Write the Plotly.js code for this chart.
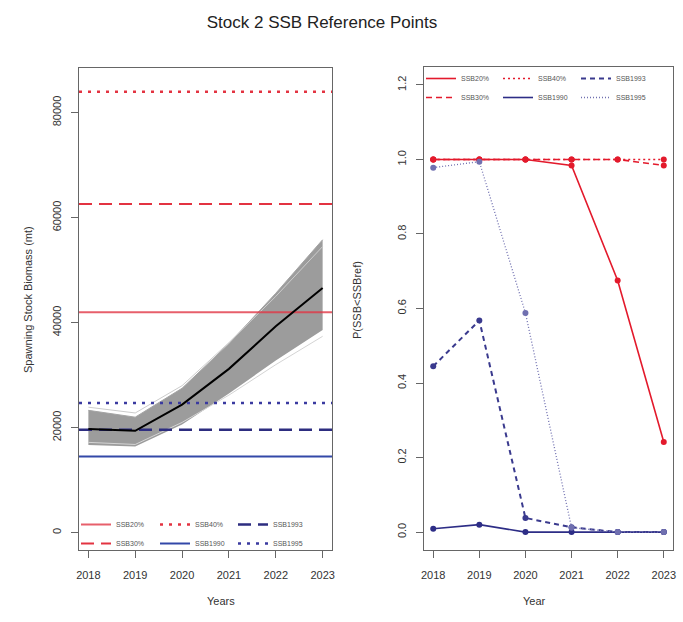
<!DOCTYPE html>
<html>
<head>
<meta charset="utf-8">
<script src="https://cdn.plot.ly/plotly-3.0.1.min.js"></script>
<style>html,body{margin:0;padding:0;background:#fff;}#chart{width:683px;height:622px;}</style>
</head>
<body>
<div id="chart"></div>
<script>
// ---------- data ----------
const years = [2018, 2019, 2020, 2021, 2022, 2023];

// left panel: projected SSB (mt)
const ssbMedian = [19750, 19400, 24400, 31200, 39300, 46600];
const ssbUpper  = [23300, 22000, 27500, 36000, 45600, 55800];
const ssbLower  = [16700, 16400, 20600, 26500, 32800, 38600];
const ssbLightHi = [23900, 22800, 28000, 36200, 45000, 54500];
const ssbLightLo = [17200, 16800, 21000, 26200, 32000, 37400];

// reference point levels (mt)
const refNames  = ["SSB20%", "SSB30%", "SSB40%", "SSB1990", "SSB1993", "SSB1995"];
const refLevels = [42000, 62600, 84000, 14500, 19600, 24700];

// right panel: P(SSB < SSBref)
const pSSB20  = [1.0, 1.0, 1.0, 0.984, 0.675, 0.242];
const pSSB30  = [1.0, 1.0, 1.0, 1.0, 1.0, 0.984];
const pSSB40  = [1.0, 1.0, 1.0, 1.0, 1.0, 1.0];
const pSSB1990 = [0.009, 0.02, 0.0, 0.0, 0.0, 0.0];
const pSSB1993 = [0.445, 0.568, 0.038, 0.013, 0.0, 0.0];
const pSSB1995 = [0.978, 0.994, 0.588, 0.012, 0.0, 0.0];

const yTicksL = [0, 20000, 40000, 60000, 80000];
const yTicksR = [0, 0.2, 0.4, 0.6, 0.8, 1.0, 1.2];
const yTickTextR = ["0.0", "0.2", "0.4", "0.6", "0.8", "1.0", "1.2"];

// ---------- styling ----------
const xRange = [2017.8, 2023.2];
const FONT = "Liberation Sans, Arial, sans-serif";
const refStylesL = [
  {color: "rgba(225,55,70,0.8)", dash: "solid", width: 2},
  {color: "rgba(225,40,55,0.95)", dash: "13px,7px", width: 2},
  {color: "rgba(225,40,55,0.95)", dash: "3px,6px", width: 2.5},
  {color: "#3348a8", dash: "solid", width: 2},
  {color: "#2d2d80", dash: "13px,7px", width: 2.5},
  {color: "#3a3aa0", dash: "3px,6px", width: 2.5}
];
const refStylesR = [
  {color: "#e31a2c", dash: "solid", width: 1.6},
  {color: "#e31a2c", dash: "6px,4px", width: 1.6},
  {color: "#e31a2c", dash: "2px,3px", width: 1.6},
  {color: "#2d2d86", dash: "solid", width: 1.6},
  {color: "#3a3a8e", dash: "5px,4px", width: 2},
  {color: "#7070b0", dash: "1px,2px", width: 1.3}
];
const pSeries = [pSSB20, pSSB30, pSSB40, pSSB1990, pSSB1993, pSSB1995];
// legend columns (R legend with ncol=3): col1: 20%,30%; col2: 40%,1990; col3: 1993,1995
const legendColL = ["legend", "legend", "legend2", "legend2", "legend3", "legend3"];
const legendColR = ["legend4", "legend4", "legend5", "legend5", "legend6", "legend6"];

const traces = [];
// gray envelope
traces.push({x: years, y: ssbLower, mode: "lines", line: {color: "rgba(0,0,0,0)", width: 0},
  xaxis: "x", yaxis: "y", showlegend: false, hoverinfo: "skip"});
traces.push({x: years, y: ssbUpper, mode: "lines", fill: "tonexty", fillcolor: "#9c9c9c",
  line: {color: "#a4a4a4", width: 1}, xaxis: "x", yaxis: "y", showlegend: false, hoverinfo: "skip"});
traces.push({x: years, y: ssbLightHi, mode: "lines", line: {color: "#cccccc", width: 1},
  xaxis: "x", yaxis: "y", showlegend: false, hoverinfo: "skip"});
traces.push({x: years, y: ssbLightLo, mode: "lines", line: {color: "#d4d4d4", width: 1},
  xaxis: "x", yaxis: "y", showlegend: false, hoverinfo: "skip"});

// reference lines (left)
refNames.forEach((nm, i) => {
  traces.push({x: xRange, y: [refLevels[i], refLevels[i]], mode: "lines", name: nm,
    line: refStylesL[i], xaxis: "x", yaxis: "y", legend: legendColL[i], hoverinfo: "skip"});
});
// median
traces.push({x: years, y: ssbMedian, mode: "lines", line: {color: "#000", width: 2},
  xaxis: "x", yaxis: "y", showlegend: false});

// right panel
refNames.forEach((nm, i) => {
  traces.push({x: years, y: pSeries[i], mode: "lines", name: nm,
    line: refStylesR[i], xaxis: "x2", yaxis: "y2", legend: legendColR[i]});
});
refNames.forEach((nm, i) => {
  traces.push({x: years, y: pSeries[i], mode: "markers", name: nm, showlegend: false,
    marker: {color: refStylesR[i].color, size: 6}, xaxis: "x2", yaxis: "y2"});
});

const H = 622, W = 683;
const axCommon = {
  showline: true, mirror: true, linecolor: "#666", linewidth: 1,
  ticks: "outside", ticklen: 7, tickcolor: "#666", tickwidth: 1,
  showgrid: false, zeroline: false, tickfont: {family: FONT, size: 11, color: "#333"}
};

function leg(xpx, ytop) {
  return {orientation: "v", x: xpx / W, y: 1 - ytop / H, xanchor: "left", yanchor: "top",
    itemwidth: 30, bgcolor: "rgba(255,255,255,0)", borderwidth: 0,
    font: {family: FONT, size: 7, color: "#555"}, traceorder: "normal", tracegroupgap: 0};
}

const layout = {
  width: W, height: H,
  margin: {l: 0, r: 0, t: 0, b: 0},
  paper_bgcolor: "#fff", plot_bgcolor: "#fff",
  font: {family: FONT, color: "#333"},
  showlegend: true,
  title: {text: "Stock 2 SSB Reference Points", font: {family: FONT, size: 17, color: "#222"},
    xref: "container", yref: "container", x: 322 / W, xanchor: "center", y: 1 - 22 / H, yanchor: "middle"},
  xaxis: Object.assign({}, axCommon, {domain: [79 / W, 332 / W], range: xRange, tickvals: years,
    ticklabelstandoff: 8, anchor: "y"}),
  yaxis: Object.assign({}, axCommon, {domain: [72 / H, 554 / H], range: [-3300, 88500],
    tickvals: yTicksL, tickformat: "d", tickangle: -90, ticklabelstandoff: 6, anchor: "x"}),
  xaxis2: Object.assign({}, axCommon, {domain: [424 / W, 673 / W], range: xRange, tickvals: years,
    ticklabelstandoff: 8, anchor: "y2"}),
  yaxis2: Object.assign({}, axCommon, {domain: [72 / H, 555 / H], range: [-0.048, 1.248],
    tickvals: yTicksR, ticktext: yTickTextR, tickangle: -90, ticklabelstandoff: 6, anchor: "x2"}),
  legend: leg(76, 510),
  legend2: leg(155, 510),
  legend3: leg(233, 510),
  legend4: leg(421, 64),
  legend5: leg(498, 64),
  legend6: leg(576, 64),
  annotations: [
    {text: "Spawning Stock Biomass (mt)", xref: "paper", yref: "paper", x: 20 / W, y: 1 - 300 / H,
      showarrow: false, textangle: -90, font: {family: FONT, size: 11, color: "#333"}},
    {text: "P(SSB<SSBref)", xref: "paper", yref: "paper", x: 357 / W, y: 1 - 300 / H,
      showarrow: false, textangle: -90, font: {family: FONT, size: 11, color: "#333"}},
    {text: "Years", xref: "paper", yref: "paper", x: 205 / W, y: 1 - 609 / H,
      showarrow: false, font: {family: FONT, size: 11, color: "#333"}},
    {text: "Year", xref: "paper", yref: "paper", x: 548 / W, y: 1 - 609 / H,
      showarrow: false, font: {family: FONT, size: 11, color: "#333"}}
  ]
};

Plotly.newPlot("chart", traces, layout, {displayModeBar: false, staticPlot: true});
</script>
</body>
</html>
